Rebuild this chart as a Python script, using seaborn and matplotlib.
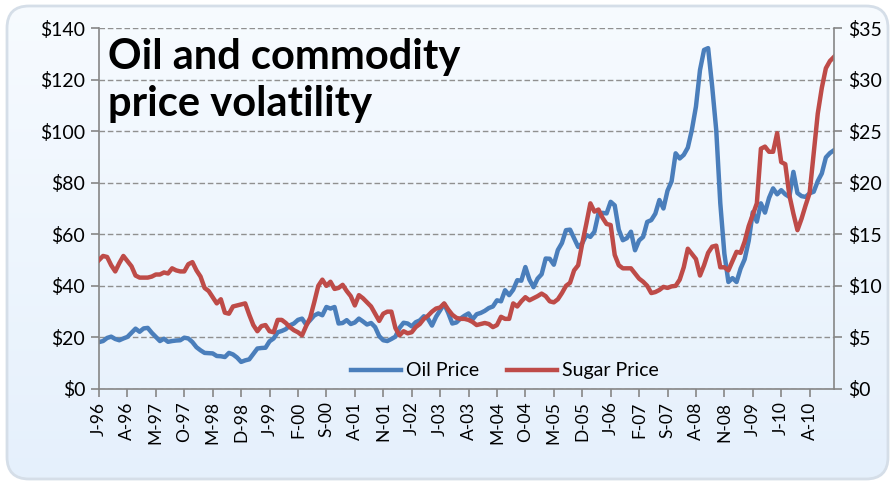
import numpy as np
import pandas as pd
import matplotlib
matplotlib.use('Agg')
import matplotlib.pyplot as plt
import seaborn as sns
from matplotlib.patches import FancyBboxPatch
from matplotlib.lines import Line2D

# Monthly series, Jan 1996 - Feb 2011
months = pd.date_range('1996-01-01', periods=182, freq='MS')

oil_price = [
    18.2, 18.6, 19.8, 20.3, 19.4, 18.9, 19.6, 20.2, 21.8, 23.4, 22.2, 23.5,   # 1996
    23.7, 21.8, 20.2, 18.6, 19.5, 18.3, 18.6, 18.8, 18.9, 19.9, 19.6, 18.2,   # 1997
    16.2, 15.0, 14.0, 13.9, 13.8, 12.8, 12.7, 12.4, 14.0, 13.4, 12.2, 10.5,   # 1998
    11.1, 11.5, 13.6, 15.7, 15.9, 16.0, 18.5, 19.6, 22.0, 22.5, 23.2, 24.7,   # 1999
    25.4, 26.8, 27.3, 25.0, 26.7, 28.5, 29.3, 28.6, 31.8, 31.2, 31.8, 25.4,   # 2000
    25.6, 26.7, 25.2, 25.8, 27.3, 26.2, 25.0, 25.6, 24.0, 20.5, 18.9, 18.6,   # 2001
    19.4, 20.3, 23.7, 25.7, 25.4, 24.3, 25.9, 26.6, 28.2, 27.3, 24.6, 28.0,   # 2002
    30.5, 33.0, 29.5, 25.4, 25.8, 27.3, 28.4, 29.3, 27.0, 29.0, 29.5, 30.3,   # 2003
    31.4, 32.0, 34.4, 34.0, 38.3, 36.4, 38.5, 42.2, 42.0, 47.3, 42.4, 39.5,   # 2004
    42.8, 44.5, 50.6, 50.5, 48.2, 53.9, 56.6, 61.6, 61.8, 58.5, 55.1, 56.5,   # 2005
    59.7, 59.0, 61.0, 68.1, 68.3, 68.1, 72.6, 71.2, 61.8, 57.7, 58.5, 61.0,   # 2006
    53.8, 57.6, 59.0, 64.8, 65.5, 68.0, 73.3, 70.0, 76.9, 80.5, 91.4, 89.4,   # 2007
    90.8, 93.6, 100.5, 109.5, 123.7, 131.5, 132.2, 117.3, 100.4, 72.0, 52.5, 41.5,  # 2008
    43.0, 41.5, 46.7, 50.3, 57.5, 68.6, 64.9, 72.0, 68.4, 74.1, 77.8, 75.5,   # 2009
    77.1, 75.5, 74.5, 84.2, 76.0, 74.8, 74.5, 75.9, 76.5, 80.6, 83.6, 89.8,   # 2010
    91.5, 92.6,                                                               # 2011
]

sugar_price = [
    12.5, 12.9, 12.8, 12.0, 11.4, 12.2, 12.9, 12.4, 11.9, 11.0, 10.8, 10.8,   # 1996
    10.8, 10.9, 11.1, 11.1, 11.3, 11.2, 11.7, 11.5, 11.4, 11.4, 12.1, 12.3,   # 1997
    11.5, 10.9, 9.8, 9.5, 8.9, 8.3, 8.7, 7.4, 7.3, 8.0, 8.1, 8.2,             # 1998
    8.3, 7.2, 6.2, 5.6, 6.1, 6.2, 5.6, 5.5, 6.7, 6.7, 6.4, 6.0,               # 1999
    5.7, 5.5, 5.2, 6.1, 6.9, 8.4, 10.0, 10.6, 10.0, 10.4, 9.7, 9.8,           # 2000
    10.1, 9.5, 9.0, 8.1, 9.1, 8.8, 8.4, 8.0, 7.3, 6.6, 7.3, 7.5,              # 2001
    7.5, 5.9, 5.2, 5.6, 5.4, 5.5, 6.0, 6.3, 6.8, 7.1, 7.5, 7.8,               # 2002
    7.9, 8.3, 7.7, 7.2, 6.9, 6.8, 6.8, 6.7, 6.5, 6.2, 6.3, 6.4,               # 2003
    6.3, 6.0, 6.2, 7.0, 6.8, 6.8, 8.3, 8.0, 8.5, 8.9, 8.6, 8.8,               # 2004
    9.0, 9.25, 9.0, 8.5, 8.4, 8.7, 9.3, 10.0, 10.3, 11.5, 12.0, 14.1,         # 2005
    16.0, 18.0, 17.2, 17.4, 16.6, 16.0, 15.9, 13.0, 12.0, 11.7, 11.7, 11.7,   # 2006
    11.2, 10.7, 10.4, 10.0, 9.3, 9.4, 9.6, 9.9, 9.8, 9.95, 10.0, 10.6,        # 2007
    11.8, 13.6, 13.1, 12.6, 11.0, 12.0, 13.2, 13.8, 13.9, 11.8, 11.8, 11.5,   # 2008
    12.4, 13.3, 13.2, 14.3, 15.8, 16.9, 18.0, 23.3, 23.5, 23.0, 23.0, 24.8,   # 2009
    22.0, 21.8, 18.8, 17.0, 15.4, 16.5, 17.8, 19.0, 22.8, 26.7, 29.2, 31.1,   # 2010
    31.8, 32.2,                                                               # 2011
]

oil_ticks = [0, 20, 40, 60, 80, 100, 120, 140]
sugar_ticks = [0, 5, 10, 15, 20, 25, 30, 35]
tick_every = 7

df = pd.DataFrame({'month': np.arange(len(months)),
                   'Oil Price': oil_price,
                   'Sugar Price': sugar_price})

blue = '#4A7EBB'
red = '#BE4B48'
gray = '#868686'

plt.rcParams['font.family'] = ['Lato', 'DejaVu Sans']

fig = plt.figure(figsize=(8.92, 4.86), dpi=100)
fig.patch.set_facecolor('white')

# background panel with gradient and rounded frame
bg = fig.add_axes([0, 0, 1, 1], zorder=-5)
bg.axis('off')
grad = np.linspace(0, 1, 256).reshape(-1, 1)
c_top = np.array([0.968, 0.984, 1.0])
c_bot = np.array([0.898, 0.941, 0.988])
img = c_top[None, None, :] * (1 - grad[:, :, None]) + c_bot[None, None, :] * grad[:, :, None]
im = bg.imshow(img, extent=[0, 1, 0, 1], aspect='auto', transform=bg.transAxes)
frame = FancyBboxPatch((0.07, 0.07), 8.81, 4.73, boxstyle='round,pad=0,rounding_size=0.22',
                       transform=fig.dpi_scale_trans, facecolor='none',
                       edgecolor='#D5DEE8', linewidth=2.0)
bg.add_patch(frame)
im.set_clip_path(frame)

ax = fig.add_axes([99 / 892, 1 - 389 / 486, 735 / 892, 361 / 486])
ax.set_facecolor('none')
ax2 = ax.twinx()
ax2.set_facecolor('none')

sns.lineplot(data=df, x='month', y='Oil Price', ax=ax, color=blue, linewidth=3.2, legend=False)
sns.lineplot(data=df, x='month', y='Sugar Price', ax=ax2, color=red, linewidth=3.2, legend=False)

n = len(months)
ax.set_xlim(0, n - 1)
ax.set_ylim(0, 140)
ax2.set_ylim(0, 35)

xt = list(range(0, n, tick_every))
ax.set_xticks(xt)
ax.set_xticklabels([months[i].strftime('%b')[0] + '-' + months[i].strftime('%y') for i in xt],
                   rotation=90, fontsize=12.5)
ax.set_yticks(oil_ticks)
ax.set_yticklabels([f'${v}' for v in oil_ticks], fontsize=14)
ax2.set_yticks(sugar_ticks)
ax2.set_yticklabels([f'${v}' for v in sugar_ticks], fontsize=14)

ax.set_xlabel('')
ax.set_ylabel('')
ax2.set_ylabel('')

ax.yaxis.grid(True, linestyle=(0, (4, 2)), color='#909090', linewidth=1.0)
ax.xaxis.grid(False)
ax.set_axisbelow(True)

for a in (ax, ax2):
    for s in a.spines.values():
        s.set_visible(False)
ax.spines['left'].set_visible(True)
ax.spines['bottom'].set_visible(True)
ax2.spines['right'].set_visible(True)
for s in (ax.spines['left'], ax.spines['bottom'], ax2.spines['right']):
    s.set_color(gray)
    s.set_linewidth(1.2)

ax.tick_params(axis='both', colors=gray, labelcolor='black', length=6, width=1.2, direction='out')
ax.tick_params(axis='y', pad=4)
ax.tick_params(axis='x', pad=3)
ax2.tick_params(axis='y', colors=gray, labelcolor='black', length=6, width=1.2, direction='out', pad=4)

ax.text(0.012, 0.972, 'Oil and commodity\nprice volatility', transform=ax.transAxes,
        fontsize=30, fontweight='bold', va='top', ha='left', linespacing=1.3, zorder=5)

handles = [Line2D([], [], color=blue, linewidth=3.2), Line2D([], [], color=red, linewidth=3.2)]
ax2.legend(handles, ['Oil Price', 'Sugar Price'], loc='center', bbox_to_anchor=(0.552, 0.05),
           ncol=2, frameon=False, fontsize=14, handlelength=2.6, handletextpad=0.25,
           columnspacing=1.4)

fig.savefig('out.png', dpi=100)
